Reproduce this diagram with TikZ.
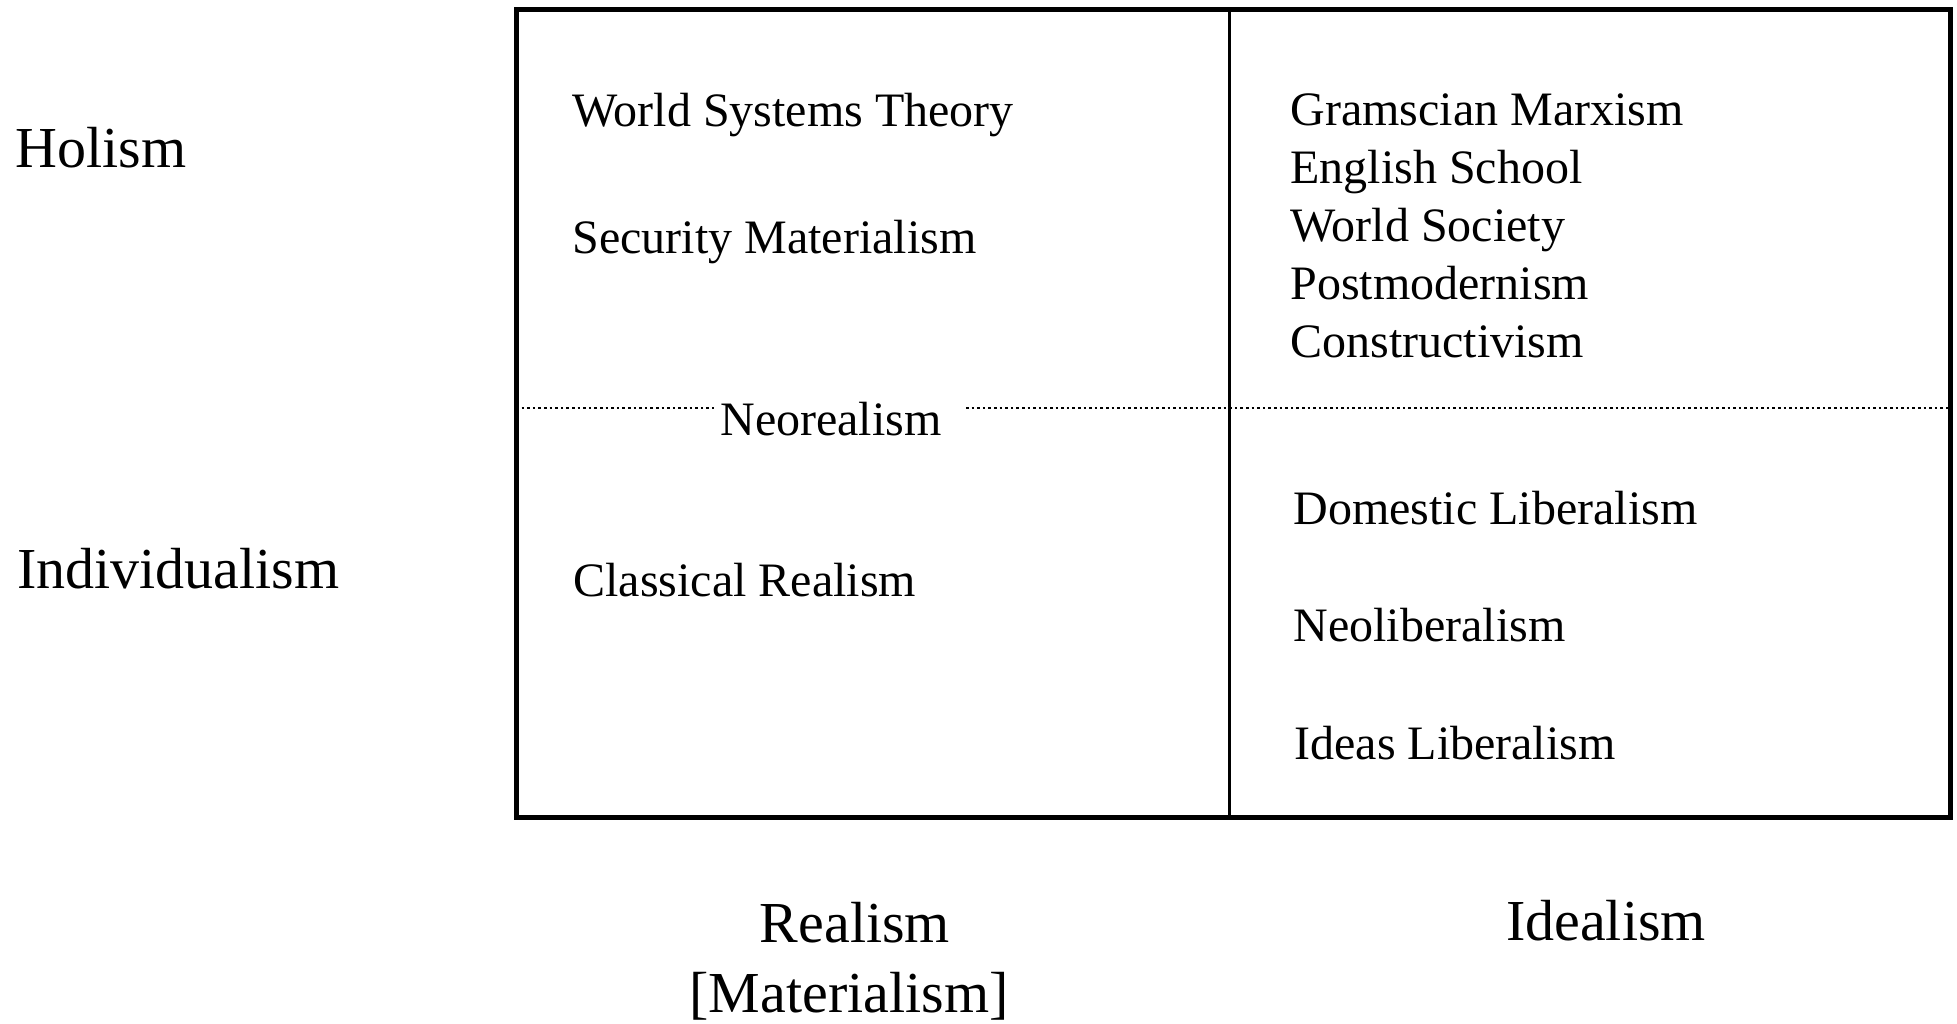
\documentclass[tikz,border=0pt]{standalone}
\usepackage{fontspec}
\setmainfont{Liberation Serif}
\usetikzlibrary{positioning}

\tikzset{
  cell/.style={font=\fontsize{24}{29}\selectfont, inner sep=0pt, anchor=mid west},
  axis/.style={font=\fontsize{29}{34}\selectfont, inner sep=0pt, anchor=mid},
  frame/.style={line width=2.5pt},
  split/.style={line width=1.5pt},
  dotline/.style={line width=1.3pt, dash pattern=on 1.3pt off 1.5pt}
}

\begin{document}
\begin{tikzpicture}[x=0.5pt,y=-0.5pt]
\useasboundingbox (0,0) rectangle (1957,1023);

% frame of the 2x2 table
\coordinate (tl) at (516,9);
\coordinate (br) at (1950,817);
\coordinate (mt) at (1229,9);
\coordinate (mb) at (1229,817);
\coordinate (dl) at (516,408);
\coordinate (dr) at (1950,408);
\draw[frame] (tl) rectangle (br);
\draw[split] (mt) -- (mb);

% row labels
\node[axis,anchor=mid west] (holism) at (15,163) {Holism};
\node[axis,anchor=mid west] (indiv) at (17,584) {Individualism};

% realism column
\node[cell] (wst) at (572,122) {World Systems Theory};
\node[cell] (secmat) at (572,249) {Security Materialism};
\node[cell,anchor=mid,inner xsep=3pt] (neoreal) at (831,431) {Neorealism};
\node[cell] (classreal) at (573,592) {Classical Realism};

% dotted holism/individualism divide, broken by Neorealism
\draw[dotline] (dl) -- (dl -| neoreal.west);
\draw[dotline] ([xshift=9pt]neoreal.east |- dr) -- (dr);

% idealism column
\node[cell] (gramsci) at (1290,121) {Gramscian Marxism};
\node[cell] (english) at (1290,179) {English School};
\node[cell] (worldsoc) at (1290,237) {World Society};
\node[cell] (postmod) at (1290,295) {Postmodernism};
\node[cell] (construct) at (1290,353) {Constructivism};
\node[cell] (domlib) at (1293,520) {Domestic Liberalism};
\node[cell] (neolib) at (1293,637) {Neoliberalism};
\node[cell] (idealib) at (1294,755) {Ideas Liberalism};

% column labels
\node[axis] (realism) at (855,938) {Realism};
\node[axis] (materialism) at (849,1008) {[Materialism]};
\node[axis] (idealism) at (1606,936) {Idealism};
\end{tikzpicture}
\end{document}
